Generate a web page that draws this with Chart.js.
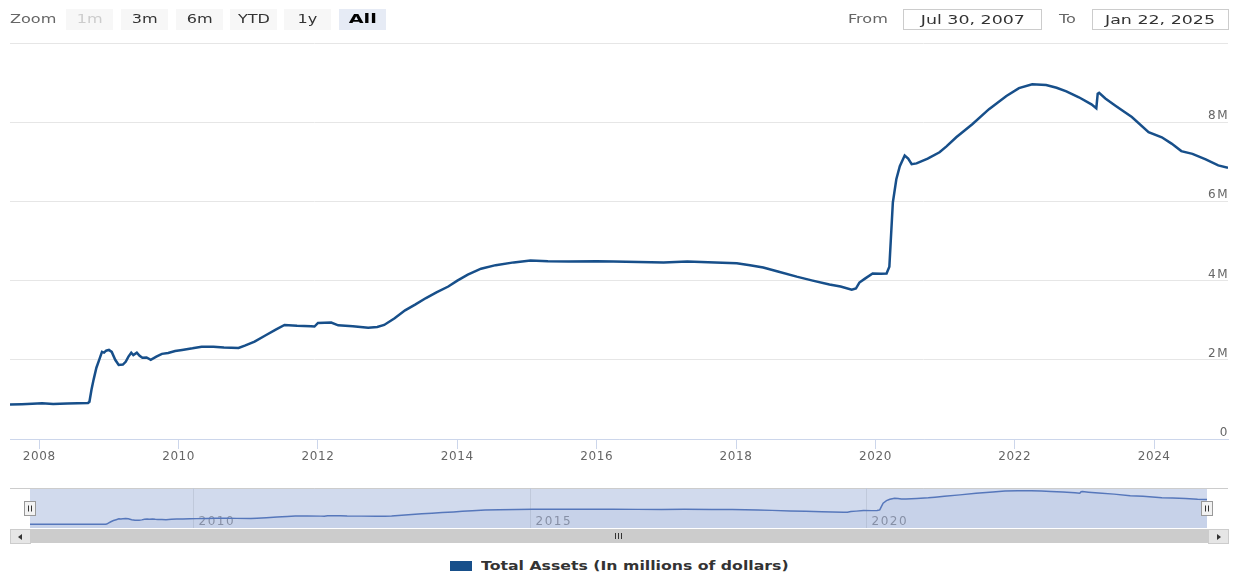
<!DOCTYPE html>
<html>
<head>
<meta charset="utf-8">
<script src="https://cdn.jsdelivr.net/npm/chart.js@4/dist/chart.umd.min.js"></script>
<style>
  body { margin: 0; background: #fff; font-family: "DejaVu Sans", Verdana, sans-serif; }
  #wrap { position: relative; width: 1233px; height: 574px; overflow: hidden; }
  .wide { display: inline-block; transform: scaleX(1.34); }
  .lbl { position: absolute; top: 10px; font-size: 12px; color: #666; line-height: 18px; }
  .lbl .wide { transform-origin: left center; }
  .btn { position: absolute; top: 9px; width: 47px; height: 21px; background: #f7f7f7; color: #333;
         font-size: 12px; line-height: 21px; text-align: center; }
  .btn .wide, .box .wide { transform-origin: center center; }
  .btn.off { color: #ccc; }
  .btn.on { background: #e6ebf5; color: #000; font-weight: bold; }
  .box { position: absolute; top: 9px; height: 19px; border: 1px solid #ccc; color: #333;
         font-size: 13px; line-height: 19px; text-align: center; }
  #main { position: absolute; left: 0; top: 0; }
  #nav { position: absolute; left: 0; top: 480px; }
  .sbtn { position: absolute; top: 529px; width: 19px; height: 13px; background: #e6e6e6; border: 1px solid #ccc; }
  .arrow { position: absolute; top: 4px; width: 0; height: 0; border-top: 3px solid transparent; border-bottom: 3px solid transparent; }
  #track { position: absolute; left: 30px; top: 529px; width: 1178px; height: 14px; background: #ccc; }
  .grip { position: absolute; top: 4px; width: 1px; height: 6px; background: #333; }
  #legend { position: absolute; left: 450px; top: 558px; font-size: 12px; font-weight: bold; color: #333; line-height: 16px; }
  #legend .sw { position: absolute; left: 0; top: 3px; width: 22px; height: 10px; background: #174f8a; }
  #legend .wide { position: absolute; left: 31px; top: 0; white-space: nowrap; transform: scaleX(1.31); transform-origin: left center; }
</style>
</head>
<body>
<div id="wrap">
  <canvas id="main" width="1233" height="470"></canvas>
  <canvas id="nav" width="1233" height="50"></canvas>

  <div class="lbl" style="left:10px;"><span class="wide">Zoom</span></div>
  <div class="btn off" style="left:66px;"><span class="wide">1m</span></div>
  <div class="btn" style="left:121px;"><span class="wide">3m</span></div>
  <div class="btn" style="left:176px;"><span class="wide">6m</span></div>
  <div class="btn" style="left:230px;"><span class="wide">YTD</span></div>
  <div class="btn" style="left:284px;"><span class="wide">1y</span></div>
  <div class="btn on" style="left:339px;"><span class="wide" style="transform:scaleX(1.6)">All</span></div>

  <div class="lbl" style="left:848px;"><span class="wide">From</span></div>
  <div class="box" style="left:903px; width:137px;"><span class="wide">Jul 30, 2007</span></div>
  <div class="lbl" style="left:1059px;"><span class="wide">To</span></div>
  <div class="box" style="left:1092px; width:135px;"><span class="wide">Jan 22, 2025</span></div>

  <div class="sbtn" style="left:10px;"><div class="arrow" style="left:7px; border-right:4px solid #333;"></div></div>
  <div id="track">
    <div class="grip" style="left:585px;"></div>
    <div class="grip" style="left:588px;"></div>
    <div class="grip" style="left:591px;"></div>
  </div>
  <div class="sbtn" style="left:1208px;"><div class="arrow" style="left:8px; border-left:4px solid #333;"></div></div>

  <div id="legend"><span class="sw"></span><span class="wide">Total Assets (In millions of dollars)</span></div>
</div>

<script>
// Fed total assets (x = decimal year, y = millions of dollars)
const years = [
  2007.58, 2007.75, 2007.90, 2008.04, 2008.20, 2008.40, 2008.55, 2008.70, 2008.72, 2008.75,
  2008.78, 2008.82, 2008.86, 2008.90, 2008.93, 2008.96, 2009.00, 2009.04, 2009.09, 2009.14,
  2009.20, 2009.24, 2009.28, 2009.32, 2009.35, 2009.40, 2009.44, 2009.48, 2009.54, 2009.60,
  2009.68, 2009.76, 2009.85, 2009.95, 2010.05, 2010.20, 2010.33, 2010.50, 2010.65, 2010.86,
  2010.95, 2011.09, 2011.25, 2011.40, 2011.52, 2011.70, 2011.90, 2011.95, 2012.00, 2012.19,
  2012.29, 2012.50, 2012.72, 2012.85, 2012.95, 2013.10, 2013.25, 2013.40, 2013.55, 2013.70,
  2013.87, 2014.00, 2014.15, 2014.34, 2014.55, 2014.81, 2015.05, 2015.30, 2015.60, 2016.00,
  2016.24, 2016.60, 2016.96, 2017.30, 2017.70, 2018.01, 2018.20, 2018.39, 2018.60, 2018.87,
  2019.10, 2019.34, 2019.50, 2019.66, 2019.72, 2019.77, 2019.85, 2019.96, 2020.08, 2020.16,
  2020.20, 2020.22, 2020.25, 2020.30, 2020.35, 2020.42, 2020.47, 2020.52, 2020.59, 2020.75,
  2020.92, 2021.02, 2021.16, 2021.39, 2021.63, 2021.88, 2022.06, 2022.25, 2022.45, 2022.60,
  2022.74, 2022.92, 2023.10, 2023.17, 2023.19, 2023.21, 2023.30, 2023.45, 2023.68, 2023.92,
  2024.11, 2024.25, 2024.39, 2024.55, 2024.74, 2024.92, 2025.06
];
const totalAssets = [
  870000, 880000, 890000, 900000, 885000, 895000, 905000, 910000, 940000, 1250000,
  1500000, 1800000, 2000000, 2200000, 2180000, 2230000, 2250000, 2200000, 2000000, 1870000,
  1880000, 1950000, 2080000, 2180000, 2120000, 2180000, 2100000, 2050000, 2060000, 2000000,
  2080000, 2150000, 2170000, 2220000, 2250000, 2290000, 2330000, 2330000, 2310000, 2300000,
  2360000, 2460000, 2620000, 2770000, 2880000, 2860000, 2850000, 2840000, 2930000, 2940000,
  2870000, 2850000, 2810000, 2830000, 2880000, 3050000, 3250000, 3400000, 3560000, 3700000,
  3850000, 4000000, 4150000, 4300000, 4390000, 4460000, 4510000, 4490000, 4480000, 4490000,
  4480000, 4470000, 4460000, 4480000, 4460000, 4440000, 4390000, 4330000, 4230000, 4100000,
  4000000, 3900000, 3850000, 3770000, 3800000, 3950000, 4050000, 4180000, 4170000, 4180000,
  4350000, 5000000, 5970000, 6560000, 6890000, 7160000, 7080000, 6940000, 6960000, 7080000,
  7240000, 7390000, 7620000, 7950000, 8330000, 8660000, 8860000, 8960000, 8940000, 8870000,
  8780000, 8630000, 8450000, 8350000, 8720000, 8740000, 8600000, 8410000, 8130000, 7750000,
  7620000, 7460000, 7270000, 7200000, 7060000, 6910000, 6850000
];
const xTickYears = [2008, 2010, 2012, 2014, 2016, 2018, 2020, 2022, 2024];
const yTicks = [0, 2000000, 4000000, 6000000, 8000000, 10000000];
const yTickLabels = ['0', '2M', '4M', '6M', '8M', ''];
const navTickYears = [2010, 2015, 2020];

const points = years.map((y, i) => ({ x: y, y: totalAssets[i] }));
const xMin = years[0], xMax = years[years.length - 1];

// wider letters on the canvas text, like the reference
const spacingPlugin = {
  id: 'spacing',
  beforeDraw(chart) { chart.ctx.letterSpacing = '0.6px'; }
};

// y labels sit on the right, just above their grid line (Highcharts stock style)
const yLabelPlugin = {
  id: 'yLabels',
  afterDraw(chart) {
    let ctx = chart.ctx, ys = chart.scales.y, area = chart.chartArea;
    ctx.save();
    ctx.font = '12px "DejaVu Sans"';
    ctx.letterSpacing = '1.5px';
    ctx.fillStyle = '#666';
    ctx.textAlign = 'right';
    ctx.textBaseline = 'alphabetic';
    yTicks.forEach((v, i) => {
      ctx.fillText(yTickLabels[i], area.right + 1, ys.getPixelForValue(v) - 3);
    });
    ctx.restore();
  }
};

new Chart(document.getElementById('main'), {
  type: 'line',
  data: {
    datasets: [{
      label: 'Total Assets (In millions of dollars)',
      data: points,
      borderColor: '#174f8a',
      borderWidth: 2.5,
      pointRadius: 0,
      tension: 0,
      fill: false
    }]
  },
  options: {
    responsive: false,
    animation: false,
    layout: { padding: { left: 10, right: 5, top: 43, bottom: 0 } },
    plugins: { legend: { display: false }, tooltip: { enabled: false } },
    scales: {
      x: {
        type: 'linear',
        min: xMin,
        max: xMax,
        afterBuildTicks: s => { s.ticks = xTickYears.map(v => ({ value: v })); },
        afterFit: s => { s.height = 31; },
        ticks: {
          autoSkip: false, maxRotation: 0, padding: 1,
          color: '#666', font: { family: 'DejaVu Sans', size: 12 },
          callback: v => String(v)
        },
        grid: { drawOnChartArea: false, drawTicks: true, tickLength: 10, color: '#ccd6eb' },
        border: { color: '#ccd6eb' }
      },
      y: {
        position: 'right',
        min: 0,
        max: 10000000,
        afterBuildTicks: s => { s.ticks = yTicks.map(v => ({ value: v })); },
        afterFit: s => { s.width = 0; },
        ticks: { display: false },
        grid: { color: '#e6e6e6', drawTicks: false },
        border: { display: false }
      }
    }
  },
  plugins: [spacingPlugin, yLabelPlugin]
});

// navigator: mask, grid lines, year labels and the two handles
const navPlugin = {
  id: 'navDecor',
  beforeDatasetsDraw(chart) {
    let ctx = chart.ctx, a = chart.chartArea, xs = chart.scales.x;
    ctx.save();
    ctx.fillStyle = 'rgb(209,218,237)';
    ctx.fillRect(a.left, a.top, a.right - a.left, a.bottom - a.top);
    ctx.strokeStyle = '#cccccc';
    ctx.lineWidth = 1;
    ctx.beginPath();
    ctx.moveTo(10, a.top + 0.5);
    ctx.lineTo(1228, a.top + 0.5);
    ctx.stroke();
    ctx.strokeStyle = '#c0c9db';
    ctx.font = '12px "DejaVu Sans"';
    ctx.letterSpacing = '1.5px';
    ctx.fillStyle = '#8c94a6';
    ctx.textBaseline = 'alphabetic';
    navTickYears.forEach(yr => {
      let px = Math.round(xs.getPixelForValue(yr)) + 0.5;
      ctx.beginPath();
      ctx.moveTo(px, a.top);
      ctx.lineTo(px, a.bottom);
      ctx.stroke();
      ctx.fillText(String(yr), px + 5, a.bottom - 3);
    });
    ctx.restore();
  },
  afterDraw(chart) {
    let ctx = chart.ctx, a = chart.chartArea;
    ctx.save();
    [a.left, a.right].forEach(hx => {
      let x0 = Math.round(hx) - 6 + 0.5, y0 = 21.5;
      ctx.fillStyle = '#f2f2f2';
      ctx.strokeStyle = '#999';
      ctx.fillRect(x0, y0, 11, 14);
      ctx.strokeRect(x0, y0, 11, 14);
      ctx.strokeStyle = '#333';
      ctx.beginPath();
      ctx.moveTo(x0 + 4, y0 + 4); ctx.lineTo(x0 + 4, y0 + 10);
      ctx.moveTo(x0 + 7, y0 + 4); ctx.lineTo(x0 + 7, y0 + 10);
      ctx.stroke();
    });
    ctx.restore();
  }
};

new Chart(document.getElementById('nav'), {
  type: 'line',
  data: {
    datasets: [{
      data: points,
      borderColor: '#5677bb',
      borderWidth: 1.5,
      backgroundColor: 'rgba(51,92,173,0.06)',
      pointRadius: 0,
      tension: 0,
      fill: 'origin'
    }]
  },
  options: {
    responsive: false,
    animation: false,
    layout: { padding: { left: 30, right: 26, top: 8, bottom: 2 } },
    plugins: { legend: { display: false }, tooltip: { enabled: false } },
    scales: {
      x: { type: 'linear', min: xMin, max: xMax, display: false },
      y: { min: 0, max: 9600000, display: false }
    }
  },
  plugins: [navPlugin]
});
</script>
</body>
</html>
